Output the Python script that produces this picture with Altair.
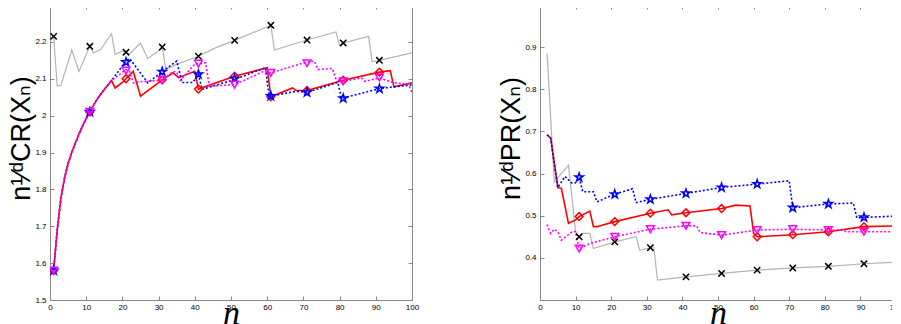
import altair as alt
import pandas as pd

# ---------------- left panel: n^(1/d) CR(X_n) ----------------
cr_common_n = [1, 2, 3, 4, 5, 6, 7, 8, 9, 10, 11, 12, 13, 14, 15, 16, 17]
cr_common_v = [1.58, 1.69, 1.775, 1.83, 1.87, 1.90, 1.925, 1.95, 1.972, 1.992,
               2.01, 2.028, 2.044, 2.058, 2.071, 2.083, 2.095]

cr_gray_n = [1, 2, 3, 6, 8, 11, 12, 14, 17, 18, 20, 21, 22, 25, 27, 30, 31, 32, 35,
             41, 46, 51, 61, 62, 71, 79, 80, 81, 88, 89, 91, 100]
cr_gray_v = [2.215, 2.08, 2.082, 2.178, 2.12, 2.188, 2.17, 2.179, 2.222, 2.166,
             2.175, 2.172, 2.167, 2.197, 2.155, 2.175, 2.186, 2.126, 2.139,
             2.161, 2.185, 2.204, 2.245, 2.178, 2.205, 2.227, 2.19, 2.197,
             2.215, 2.146, 2.15, 2.17]

cr_red_n = [18, 20, 21, 23, 25, 31, 34, 35.5, 40, 41, 51, 60, 61, 67, 68, 71,
            81, 91, 94, 95, 100]
cr_red_v = [2.075, 2.09, 2.10, 2.12, 2.053, 2.097, 2.116, 2.103, 2.12, 2.072,
            2.107, 2.13, 2.051, 2.075, 2.068, 2.068, 2.096, 2.118, 2.122, 2.078,
            2.089]

cr_blue_n = [21, 22, 27, 31, 35, 36.5, 39.5, 41, 42, 51, 59.5, 60.5, 61, 68, 71,
             79.5, 80.5, 81, 91, 94, 100]
cr_blue_v = [2.148, 2.155, 2.089, 2.119, 2.148, 2.09, 2.09, 2.112, 2.071, 2.098,
             2.13, 2.053, 2.053, 2.066, 2.063, 2.09, 2.048, 2.048, 2.073, 2.077,
             2.083]

cr_mag_n = [19, 21, 22, 23, 25, 31, 34, 35, 36, 40, 41, 43, 44, 51, 59, 61, 70,
            73, 74, 78, 79, 81, 86, 87, 91, 95, 99, 100]
cr_mag_v = [2.11, 2.125, 2.12, 2.089, 2.092, 2.096, 2.12, 2.118, 2.095, 2.14,
            2.141, 2.143, 2.08, 2.084, 2.12, 2.116, 2.143, 2.148, 2.125, 2.128,
            2.098, 2.093, 2.102, 2.093, 2.102, 2.089, 2.085, 2.063]

cr_mark_n = [1, 11, 21, 31, 41, 51, 61, 71, 81, 91]
cr_mark_gray = [2.215, 2.188, 2.172, 2.186, 2.161, 2.204, 2.245, 2.205, 2.197, 2.15]
cr_mark_red = [1.58, 2.01, 2.10, 2.097, 2.072, 2.107, 2.051, 2.068, 2.096, 2.118]
cr_mark_blue = [1.58, 2.01, 2.145, 2.119, 2.112, 2.10, 2.053, 2.063, 2.047, 2.073]
cr_mark_mag = [1.58, 2.01, 2.122, 2.096, 2.141, 2.084, 2.116, 2.142, 2.093, 2.103]

# ---------------- right panel: n^(1/d) PR(X_n) ----------------
pr_gray_n = [2, 4, 8, 10, 11, 12, 14, 15, 21, 27, 28, 31, 32, 33, 41, 51, 61, 71,
             81, 91, 100]
pr_gray_v = [0.884, 0.58, 0.62, 0.462, 0.45, 0.458, 0.458, 0.422, 0.438, 0.45,
             0.418, 0.424, 0.424, 0.347, 0.355, 0.363, 0.371, 0.376, 0.38, 0.386,
             0.39]

pr_blue_n = [2, 3, 5, 7, 9, 10, 11, 12, 15, 16, 21, 26, 27, 31, 41, 51, 61, 70,
             71, 81, 88, 89, 91, 100]
pr_blue_v = [0.692, 0.684, 0.567, 0.593, 0.577, 0.578, 0.591, 0.557, 0.557, 0.533,
             0.551, 0.564, 0.531, 0.539, 0.553, 0.567, 0.575, 0.583, 0.519, 0.528,
             0.53, 0.495, 0.496, 0.499]

pr_red_n = [2, 3, 5, 6, 8, 10, 11, 14, 15, 16, 21, 31, 36, 37, 41, 51, 55, 59,
            60, 61, 71, 81, 91, 100]
pr_red_v = [0.692, 0.684, 0.567, 0.565, 0.482, 0.49, 0.498, 0.511, 0.474, 0.474,
            0.486, 0.506, 0.514, 0.502, 0.507, 0.517, 0.525, 0.523, 0.458, 0.45,
            0.455, 0.462, 0.474, 0.476]

pr_mag_n = [2, 3, 4, 5, 6, 8, 9, 10, 11, 14, 21, 31, 41, 44, 45, 51, 61, 71, 81,
            85, 86, 91, 100]
pr_mag_v = [0.479, 0.458, 0.468, 0.462, 0.442, 0.455, 0.462, 0.462, 0.422, 0.434,
            0.45, 0.468, 0.476, 0.476, 0.46, 0.454, 0.466, 0.468, 0.466, 0.466,
            0.462, 0.462, 0.462]

pr_mark_n = [11, 21, 31, 41, 51, 61, 71, 81, 91]
pr_mark_gray = [0.45, 0.438, 0.424, 0.355, 0.363, 0.371, 0.376, 0.38, 0.386]
pr_mark_red = [0.498, 0.486, 0.506, 0.507, 0.517, 0.45, 0.455, 0.462, 0.474]
pr_mark_blue = [0.591, 0.551, 0.539, 0.553, 0.567, 0.575, 0.519, 0.528, 0.496]
pr_mark_mag = [0.422, 0.45, 0.468, 0.476, 0.454, 0.466, 0.468, 0.466, 0.462]

x_ticks = list(range(0, 101, 10))
cr_ticks = [1.5, 1.6, 1.7, 1.8, 1.9, 2.0, 2.1, 2.2, 2.3]
pr_ticks = [0.4, 0.5, 0.6, 0.7, 0.8, 0.9, 1.0]

X_PATH = "M-1,-1L1,1M-1,1L1,-1"
STAR_PATH = ("M0,-1L0.225,-0.309L0.951,-0.309L0.363,0.118L0.588,0.809L0,0.382"
             "L-0.588,0.809L-0.363,0.118L-0.951,-0.309L-0.225,-0.309Z")

H = 295


def df(ns, vs):
    return pd.DataFrame({"n": ns, "v": vs})


def panel(lines, marks, ydom, yvals, ytitle, width):
    xs = alt.Scale(domain=[0, 100], nice=False, zero=False)
    ys = alt.Scale(domain=ydom, nice=False, zero=False)
    xaxis = alt.Axis(values=x_ticks, offset=-4, tickSize=4, domain=False, grid=False,
                     labelFontSize=8, labelPadding=3, labelFlush=False,
                     title="n", titleFont="Liberation Serif", titleFontStyle="italic",
                     titleFontSize=34, titleFontWeight="normal",
                     titleBaseline="alphabetic", titleY=27)
    yaxis = alt.Axis(values=yvals, format="~g", offset=-4, tickSize=4, domain=False,
                     grid=False, labelFontSize=8, labelPadding=4, labelFlush=False,
                     title=ytitle, titleFont="Liberation Sans, DejaVu Sans",
                     titleFontSize=27, titleFontWeight="normal",
                     titleBaseline="alphabetic", titleAngle=-90, titleX=-25, titleY=133)
    xtop = alt.Axis(values=x_ticks, orient="top", offset=-4, tickSize=4, domain=False,
                    grid=False, labels=False, title=None)
    yright = alt.Axis(values=yvals, orient="right", offset=-4, tickSize=4, domain=False,
                      grid=False, labels=False, title=None)

    base_df = lines[0][0]
    layers = [
        alt.Chart(base_df).mark_line(opacity=0).encode(
            x=alt.X("n:Q", scale=xs, axis=xaxis),
            y=alt.Y("v:Q", scale=ys, axis=yaxis)),
        alt.Chart(base_df).mark_line(opacity=0).encode(
            x=alt.X("n:Q", scale=xs, axis=xtop),
            y=alt.Y("v:Q", scale=ys, axis=yright)),
    ]
    for d, color, dash, sw in lines:
        kw = dict(color=color, strokeWidth=sw, clip=True)
        if dash:
            kw["strokeDash"] = dash
        layers.append(alt.Chart(d).mark_line(**kw).encode(
            x=alt.X("n:Q", scale=xs, axis=None),
            y=alt.Y("v:Q", scale=ys, axis=None)))
    for d, color, shape, size in marks:
        layers.append(alt.Chart(d).mark_point(
            shape=shape, color=color, filled=False, size=size, strokeWidth=1.5,
            opacity=1, clip=True).encode(
            x=alt.X("n:Q", scale=xs, axis=None),
            y=alt.Y("v:Q", scale=ys, axis=None)))
    return alt.layer(*layers).resolve_axis(x="independent", y="independent").properties(
        width=width, height=H)


GRAY, RED, BLUE, MAG = "#b4b4b4", "#ff0000", "#0000ff", "#ff00ff"

left = panel(
    [
        (df(cr_gray_n, cr_gray_v), GRAY, None, 1.2),
        (df(cr_common_n + cr_red_n, cr_common_v + cr_red_v), RED, None, 1.6),
        (df(cr_common_n + cr_blue_n, cr_common_v + cr_blue_v), BLUE, [2, 2], 1.6),
        (df(cr_common_n + cr_mag_n, cr_common_v + cr_mag_v), MAG, [2, 2], 1.6),
    ],
    [
        (df(cr_mark_n, cr_mark_gray), "#000000", X_PATH, 40),
        (df(cr_mark_n, cr_mark_red), RED, "diamond", 60),
        (df(cr_mark_n, cr_mark_blue), BLUE, STAR_PATH, 75),
        (df(cr_mark_n, cr_mark_mag), MAG, "triangle-down", 60),
    ],
    [1.5, 2.3], cr_ticks, "n¹⁄ᵈCR(Xₙ)", 362)

right = panel(
    [
        (df(pr_gray_n, pr_gray_v), GRAY, None, 1.2),
        (df(pr_red_n, pr_red_v), RED, None, 1.6),
        (df(pr_blue_n, pr_blue_v), BLUE, [2, 2], 1.6),
        (df(pr_mag_n, pr_mag_v), MAG, [2, 2], 1.6),
    ],
    [
        (df(pr_mark_n, pr_mark_gray), "#000000", X_PATH, 40),
        (df(pr_mark_n, pr_mark_red), RED, "diamond", 60),
        (df(pr_mark_n, pr_mark_blue), BLUE, STAR_PATH, 75),
        (df(pr_mark_n, pr_mark_mag), MAG, "triangle-down", 60),
    ],
    [0.3, 1.0], pr_ticks, "n¹⁄ᵈPR(Xₙ)", 356)

chart = alt.hconcat(left, right, spacing=128, bounds="flush").properties(
    padding={"left": -2, "top": -8, "right": -12, "bottom": 0},
    background="white",
).configure_view(stroke="#888888", strokeWidth=1).configure_axis(
    labelFont="Liberation Sans", labelColor="#000000", tickColor="#888888",
    tickWidth=1, titleColor="#000000")

chart.save("out.html", embed_options={"renderer": "svg", "actions": False})
